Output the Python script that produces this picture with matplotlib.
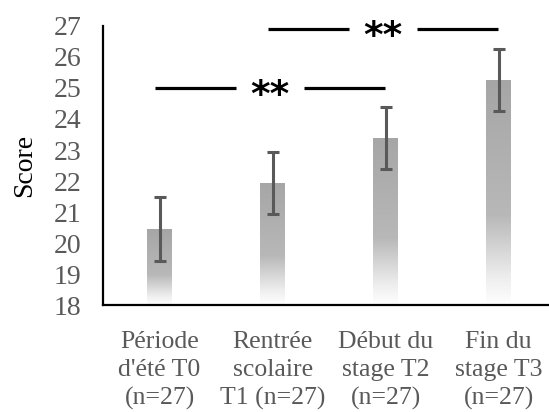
import matplotlib
matplotlib.use("Agg")
import matplotlib.pyplot as plt
import numpy as np
from matplotlib.colors import LinearSegmentedColormap

categories = ["Période\nd'été T0\n(n=27)", "Rentrée\nscolaire\nT1 (n=27)",
              "Début du\nstage T2\n(n=27)", "Fin du\nstage T3\n(n=27)"]
means = [20.45, 21.95, 23.4, 25.25]
errors = [1.02, 1.0, 1.0, 1.0]
comparisons = [(0, 2, 25.0, "**"), (1, 3, 26.9, "**")]
y_ticks = [18, 19, 20, 21, 22, 23, 24, 25, 26, 27]

plt.rcParams['font.family'] = ['Liberation Serif', 'DejaVu Serif']

fig = plt.figure(figsize=(5.49, 4.12), dpi=100)
ax = fig.add_axes([0.1876, 0.2597, 0.8114, 0.6772])

cmap = LinearSegmentedColormap.from_list(
    "g", [(0.0, "#ffffff"), (0.12, "#eeeeee"), (0.4, "#b8b8b8"), (1.0, "#a6a6a6")])
grad = np.linspace(0, 1, 256).reshape(-1, 1)
x = np.arange(len(categories))
width = 0.22
bars = ax.bar(x, [m - 18 for m in means], width=width, bottom=18, color="none", edgecolor="none")
for b in bars:
    x0, y0 = b.get_x(), b.get_y()
    w, h = b.get_width(), b.get_height()
    im = ax.imshow(grad, cmap=cmap, origin="lower", aspect="auto",
                   extent=[x0, x0 + w, y0, y0 + h], zorder=1, vmin=0, vmax=1)
    im.set_clip_path(b)

ax.errorbar(x, means, yerr=errors, fmt="none", ecolor="#595959", elinewidth=2.2,
            capsize=4, capthick=2.2, zorder=3)

for i, j, yv, txt in comparisons:
    left = x[i] - 0.04
    right = x[j] - 0.01
    mid = (left + right) / 2
    gap = 0.3
    ax.plot([left, mid - gap], [yv, yv], color="black", lw=2.3, solid_capstyle="butt", zorder=4)
    ax.plot([mid + gap, right], [yv, yv], color="black", lw=2.3, solid_capstyle="butt", zorder=4)
    ax.text(mid, yv - 0.25, txt, ha="center", va="center", fontsize=27, fontweight="bold",
            color="black", family=["DejaVu Sans"], zorder=4)

ax.set_xlim(-0.5, 3.44)
ax.set_ylim(18, 27)
ax.set_yticks(y_ticks)
ax.set_xticks(x)
ax.set_xticklabels(categories)
ax.tick_params(axis="both", length=0, colors="#595959")
ax.tick_params(axis="y", labelsize=20, pad=15.5)
ax.tick_params(axis="x", labelsize=18.5, pad=19)
for lab in ax.get_xticklabels():
    lab.set_linespacing(1.33)
ax.set_ylabel("Score", fontsize=20, color="black", labelpad=12)
for s in ["top", "right"]:
    ax.spines[s].set_visible(False)
for s in ["left", "bottom"]:
    ax.spines[s].set_linewidth(1.6)
    ax.spines[s].set_color("black")

fig.savefig("out.png", dpi=100)
